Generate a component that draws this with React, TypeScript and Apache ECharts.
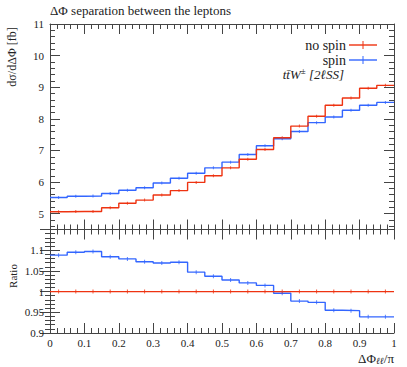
import React, { useEffect, useRef } from "react";
import * as echarts from "echarts";

// Bin edges of the ΔΦ_ll/π histogram
const X_EDGES = [0, 0.05, 0.1, 0.15, 0.2, 0.25, 0.3, 0.35, 0.4, 0.45, 0.5, 0.55, 0.6, 0.65, 0.7, 0.75, 0.8, 0.85, 0.9, 0.95, 1];
// dσ/dΔΦ [fb]
const NO_SPIN = [5.06, 5.07, 5.07, 5.19, 5.33, 5.43, 5.59, 5.73, 5.99, 6.2, 6.45, 6.72, 7.03, 7.4, 7.77, 8.08, 8.43, 8.66, 8.97, 9.06];
const SPIN = [5.51, 5.55, 5.56, 5.64, 5.74, 5.82, 5.97, 6.12, 6.28, 6.45, 6.63, 6.87, 7.15, 7.37, 7.6, 7.88, 8.06, 8.27, 8.43, 8.52];
// Ratio to "no spin"
const RATIO_NO_SPIN = [1, 1, 1, 1, 1, 1, 1, 1, 1, 1, 1, 1, 1, 1, 1, 1, 1, 1, 1, 1];
const RATIO_SPIN = [1.088, 1.095, 1.097, 1.084, 1.079, 1.072, 1.069, 1.071, 1.047, 1.037, 1.028, 1.021, 1.015, 0.996, 0.977, 0.974, 0.955, 0.954, 0.939, 0.939];

// Tick labels
const Y_TICKS_TOP = [5, 6, 7, 8, 9, 10, 11];
const Y_MINOR_TOP = [4.6, 4.8, 5.2, 5.4, 5.6, 5.8, 6.2, 6.4, 6.6, 6.8, 7.2, 7.4, 7.6, 7.8, 8.2, 8.4, 8.6, 8.8, 9.2, 9.4, 9.6, 9.8, 10.2, 10.4, 10.6, 10.8];
const RATIO_TICKS = [0.9, 0.95, 1, 1.05, 1.1];

const RED = "#ee3311";
const BLUE = "#3366ff";
const FRAME = "#444";
const TXT = "#222";
const FONT = "'Liberation Serif', serif";

function steps(vals: number[]) {
  const pts: number[][] = [];
  vals.forEach((v, i) => {
    pts.push([X_EDGES[i], v]);
    pts.push([X_EDGES[i + 1], v]);
  });
  return pts;
}
function centers(vals: number[]) {
  return vals.map((v, i) => [(X_EDGES[i] + X_EDGES[i + 1]) / 2, v]);
}

export default function App() {
  const ref = useRef<HTMLDivElement>(null);
  useEffect(() => {
    if (!ref.current) return;
    const chart = echarts.init(ref.current, null, { renderer: "svg" });
    const line = { show: true, lineStyle: { color: FRAME, width: 1 } };
    const tickStyle = { color: FRAME, width: 1 };
    const lbl = { show: true, fontSize: 11, color: TXT, fontFamily: FONT };
    const xAx = (grid: number, pos: string, labels: boolean) => ({
      type: "value",
      gridIndex: grid,
      position: pos,
      min: 0,
      max: 1,
      interval: 0.1,
      axisLine: line,
      axisTick: { show: true, inside: true, length: 10, lineStyle: tickStyle },
      minorTick: { show: true, splitNumber: 5, length: 5, lineStyle: tickStyle },
      splitLine: { show: false },
      minorSplitLine: { show: false },
      axisLabel: labels ? { ...lbl, margin: 4, lineHeight: 11, formatter: (v: number) => String(+v.toFixed(2)) } : { show: false },
    });
    const yTop = (pos: string, major: boolean, labels: boolean) => ({
      type: "value",
      gridIndex: 0,
      position: pos,
      min: 4.5,
      max: 11,
      axisLine: major ? line : { show: false },
      axisTick: {
        show: true,
        inside: true,
        length: major ? 10 : 5,
        lineStyle: tickStyle,
        customValues: major ? Y_TICKS_TOP : Y_MINOR_TOP,
      },
      splitLine: { show: false },
      axisLabel: labels ? { ...lbl, margin: 6, customValues: Y_TICKS_TOP } : { show: false },
    });
    const yRatio = (pos: string, labels: boolean) => ({
      type: "value",
      gridIndex: 1,
      position: pos,
      min: 0.9,
      max: 1.15,
      interval: 0.05,
      axisLine: line,
      axisTick: { show: true, inside: true, length: 10, lineStyle: tickStyle },
      minorTick: { show: true, splitNumber: 5, length: 5, lineStyle: tickStyle },
      splitLine: { show: false },
      minorSplitLine: { show: false },
      axisLabel: labels
        ? { ...lbl, margin: 6, customValues: RATIO_TICKS, formatter: (v: number) => String(+v.toFixed(2)) }
        : { show: false },
    });

    const hist = (name: string, vals: number[], color: string, xi: number, yi: number) => ({
      name,
      type: "line",
      xAxisIndex: xi,
      yAxisIndex: yi,
      data: steps(vals),
      showSymbol: false,
      lineStyle: { color, width: 1.4 },
      z: 3,
    });
    const errs = (vals: number[], color: string, xi: number, yi: number, h: number) => ({
      type: "scatter",
      xAxisIndex: xi,
      yAxisIndex: yi,
      data: centers(vals),
      symbol: "rect",
      symbolSize: [1, h],
      itemStyle: { color },
      z: 4,
    });

    chart.setOption({
      animation: false,
      textStyle: { fontFamily: FONT },
      grid: [
        { left: 50, right: 13, top: 24, height: 205.5 },
        { left: 50, right: 13, top: 229.5, height: 103.5 },
      ],
      xAxis: [xAx(0, "bottom", false), xAx(0, "top", false), xAx(1, "bottom", true), xAx(1, "top", false)],
      yAxis: [
        yTop("left", true, true),
        yTop("left", false, false),
        yTop("right", true, false),
        yTop("right", false, false),
        yRatio("left", true),
        yRatio("right", false),
      ],
      series: [
        hist("spin", SPIN, BLUE, 0, 0),
        hist("no spin", NO_SPIN, RED, 0, 0),
        errs(SPIN, BLUE, 0, 0, 3),
        errs(NO_SPIN, RED, 0, 0, 3),
        hist("spin r", RATIO_SPIN, BLUE, 2, 4),
        hist("no spin r", RATIO_NO_SPIN, RED, 2, 4),
        errs(RATIO_SPIN, BLUE, 2, 4, 4),
        errs(RATIO_NO_SPIN, RED, 2, 4, 4),
      ],
      graphic: [
        {
          type: "text",
          x: 50,
          y: 10,
          style: { text: "ΔΦ separation between the leptons", fontSize: 13, fill: TXT, fontFamily: FONT, verticalAlign: "middle" },
        },
        {
          type: "text",
          x: 12,
          y: 57,
          rotation: Math.PI / 2,
          style: { text: "dσ/dΔΦ [fb]", fontSize: 12, fill: TXT, fontFamily: FONT, align: "center", verticalAlign: "middle" },
        },
        {
          type: "text",
          x: 13,
          y: 276,
          rotation: Math.PI / 2,
          style: { text: "Ratio", fontSize: 11, fill: TXT, fontFamily: FONT, align: "center", verticalAlign: "middle" },
        },
        {
          type: "text",
          x: 394,
          y: 358,
          style: {
            text: "{a|ΔΦ}{s|ℓℓ}{a|/π}",
            align: "right",
            verticalAlign: "middle",
            fill: TXT,
            fontFamily: FONT,
            rich: {
              a: { fontSize: 13, fontFamily: FONT, fill: TXT, lineHeight: 15, verticalAlign: "middle" },
              s: { fontSize: 9.5, fontFamily: FONT, fontStyle: "italic", fill: TXT, lineHeight: 9.5, verticalAlign: "bottom" },
            },
          },
        },
        // legend
        { type: "text", x: 346, y: 45, style: { text: "no spin", fontSize: 14, fill: TXT, fontFamily: FONT, align: "right", verticalAlign: "middle" } },
        { type: "line", shape: { x1: 349, y1: 45, x2: 377, y2: 45 }, style: { stroke: RED, lineWidth: 1.4 } },
        { type: "line", shape: { x1: 363, y1: 41, x2: 363, y2: 49 }, style: { stroke: RED, lineWidth: 1 } },
        { type: "text", x: 346, y: 60, style: { text: "spin", fontSize: 14, fill: TXT, fontFamily: FONT, align: "right", verticalAlign: "middle" } },
        { type: "line", shape: { x1: 349, y1: 60, x2: 377, y2: 60 }, style: { stroke: BLUE, lineWidth: 1.4 } },
        { type: "line", shape: { x1: 363, y1: 56, x2: 363, y2: 64 }, style: { stroke: BLUE, lineWidth: 1 } },
        {
          type: "text",
          x: 344,
          y: 74,
          style: {
            text: "{i|tt\u0304W}{p|±}{i| [2ℓSS]}",
            align: "right",
            verticalAlign: "middle",
            fill: TXT,
            fontFamily: FONT,
            rich: {
              i: { fontSize: 13, fontStyle: "italic", fontFamily: FONT, fill: TXT, lineHeight: 16, verticalAlign: "middle" },
              p: { fontSize: 9, fontFamily: FONT, fill: TXT, lineHeight: 16, verticalAlign: "top" },
            },
          },
        },
      ],
    });
    return () => chart.dispose();
  }, []);
  return <div ref={ref} style={{ width: 407, height: 367, position: "absolute", left: 0, top: 0 }} />;
}
